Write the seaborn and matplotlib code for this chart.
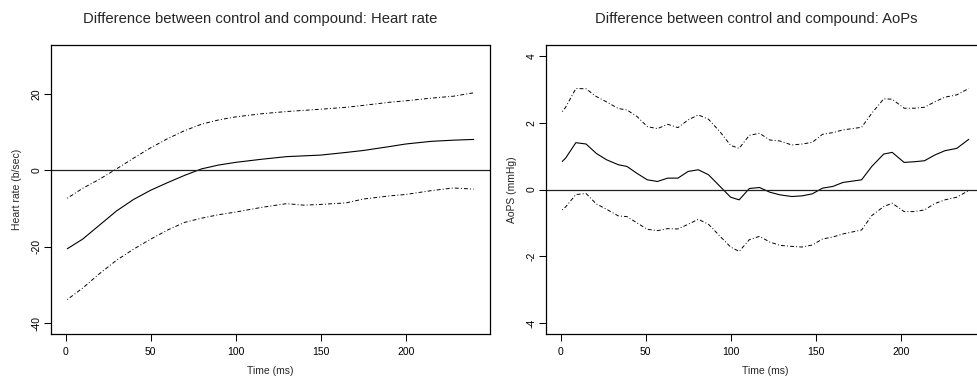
import matplotlib
matplotlib.use("Agg")
import matplotlib.pyplot as plt
import numpy as np
import pandas as pd
import seaborn as sns

# Heart rate: estimated difference and confidence band
hr_time = [1, 10, 20, 30, 40, 50, 60, 70, 80, 90, 100, 115, 130, 140, 150, 165, 175, 190, 200, 215, 228, 240]
hr_diff = [-20.5, -18.0, -14.3, -10.6, -7.6, -5.2, -3.2, -1.3, 0.4, 1.4, 2.1, 2.9, 3.6, 3.8, 4.0, 4.7, 5.2, 6.2, 6.9, 7.6, 7.9, 8.1]
hr_upper = [-7.3, -4.7, -2.3, 0.4, 3.2, 5.9, 8.3, 10.4, 12.1, 13.2, 14.0, 14.8, 15.4, 15.7, 16.0, 16.5, 17.0, 17.8, 18.2, 18.9, 19.4, 20.3]
hr_lower = [-33.8, -30.8, -27.0, -23.5, -20.6, -18.0, -15.6, -13.6, -12.5, -11.6, -10.9, -9.7, -8.7, -9.1, -8.9, -8.5, -7.5, -6.7, -6.3, -5.3, -4.6, -4.9]

# Aortic pressure: estimated difference and confidence band
aop_time = [1, 3, 9, 15, 21, 27, 34, 39, 45, 51, 57, 63, 69, 75, 81, 87, 94, 100, 105, 111,
            117, 123, 129, 136, 142, 148, 154, 160, 166, 177, 183, 190, 195, 202, 208, 214, 220, 226, 233, 240]
aop_diff = [0.84, 0.94, 1.40, 1.36, 1.08, 0.89, 0.74, 0.69, 0.48, 0.29, 0.24, 0.34, 0.34, 0.54, 0.59, 0.44, 0.08, -0.23, -0.31, 0.03,
            0.06, -0.08, -0.16, -0.21, -0.19, -0.13, 0.04, 0.09, 0.21, 0.29, 0.69, 1.06, 1.11, 0.81, 0.83, 0.86, 1.03, 1.16, 1.23, 1.50]
aop_upper = [2.33, 2.46, 3.02, 3.01, 2.78, 2.62, 2.42, 2.38, 2.18, 1.88, 1.82, 1.95, 1.85, 2.08, 2.23, 2.10, 1.71, 1.32, 1.23, 1.62,
             1.68, 1.48, 1.45, 1.33, 1.36, 1.41, 1.65, 1.70, 1.78, 1.86, 2.28, 2.71, 2.70, 2.43, 2.43, 2.46, 2.62, 2.76, 2.83, 3.02]
aop_lower = [-0.61, -0.52, -0.15, -0.12, -0.43, -0.59, -0.79, -0.81, -1.00, -1.19, -1.23, -1.17, -1.18, -1.04, -0.89, -1.04, -1.41, -1.72, -1.85, -1.50,
             -1.40, -1.57, -1.67, -1.70, -1.72, -1.66, -1.48, -1.42, -1.33, -1.21, -0.78, -0.51, -0.41, -0.66, -0.66, -0.61, -0.42, -0.31, -0.23, -0.03]

x_ticks = [0, 50, 100, 150, 200]
hr_yticks = [-40, -20, 0, 20]
aop_yticks = [-4, -2, 0, 2, 4]

sns.set_style("white")
plt.rcParams["font.family"] = ["Liberation Sans", "DejaVu Sans"]

W, H = 978, 377
fig = plt.figure(figsize=(W / 100, H / 100), dpi=100)

def px_axes(x0, x1, y0, y1):
    return fig.add_axes([x0 / W, 1 - y1 / H, (x1 - x0) / W, (y1 - y0) / H])

ax1 = px_axes(51, 490, 45, 334)
ax2 = px_axes(546, 985, 45, 334)

band_style = (0, (1, 2.2, 4, 2.2))
lw = 0.8
small = 7.5

def draw_panel(ax, t, diff, up, lo, ylim, yticks, ylabel):
    df = pd.DataFrame({"time": t, "diff": diff, "upper": up, "lower": lo})
    sns.lineplot(data=df, x="time", y="diff", ax=ax, color="black", lw=lw)
    sns.lineplot(data=df, x="time", y="upper", ax=ax, color="black", lw=0.7, linestyle=band_style)
    sns.lineplot(data=df, x="time", y="lower", ax=ax, color="black", lw=0.7, linestyle=band_style)
    ax.axhline(0, color="#222222", lw=0.9)
    ax.set_xlim(-8.56, 249.56)
    ax.set_ylim(*ylim)
    ax.set_xticks(x_ticks)
    ax.set_yticks(yticks)
    ax.set_yticklabels([str(v) for v in yticks], rotation=90, va="center")
    ax.tick_params(axis="both", direction="out", length=5.2, width=0.75, colors="black",
                   labelsize=small, bottom=True, left=True)
    ax.tick_params(axis="x", pad=4.3)
    ax.tick_params(axis="y", pad=1.8)
    for s in ax.spines.values():
        s.set_visible(True)
        s.set_color("black")
        s.set_linewidth(0.9)
    ax.set_xlabel("Time (ms)", fontsize=small)
    ax.set_ylabel(ylabel, fontsize=small)
    ax.xaxis.set_label_coords(0.5, -0.11)
    ax.yaxis.set_label_coords(-0.067, 0.5)

draw_panel(ax1, hr_time, hr_diff, hr_upper, hr_lower, (-42.8, 32.8), hr_yticks, "Heart rate (b/sec)")
draw_panel(ax2, aop_time, aop_diff, aop_upper, aop_lower, (-4.32, 4.32), aop_yticks, "AoPS (mmHg)")

fig.text(260 / W, 1 - 19 / H, "Difference between control and compound: Heart rate",
         ha="center", va="center", fontsize=10.7)
fig.text(756 / W, 1 - 19 / H, "Difference between control and compound: AoPs",
         ha="center", va="center", fontsize=10.7)

fig.savefig("out.png", dpi=100)
